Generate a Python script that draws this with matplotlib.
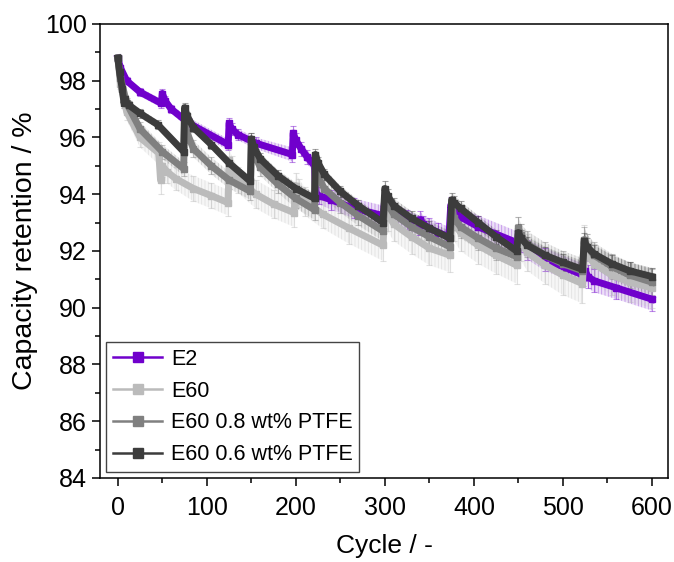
import matplotlib
matplotlib.use("Agg")
import matplotlib.pyplot as plt
from matplotlib.lines import Line2D
from matplotlib.colors import to_rgba
from matplotlib.ticker import MultipleLocator

plt.rcParams['font.family'] = ['Liberation Sans', 'DejaVu Sans']
plt.rcParams['hatch.linewidth'] = 0.6

# ---- data (cycle, retention %, std dev) ----
e2_cyc = [0, 3, 10, 25, 49, 50, 53, 60, 80, 124, 125, 128, 135, 155, 196,
          197, 200, 206, 213, 221, 222, 226, 240, 265, 298, 300, 303, 310, 325, 338,
          340, 343, 350, 360, 372, 374, 377, 385, 405, 448, 450, 453, 460, 480, 523,
          525, 528, 535, 560, 600]
e2_val = [98.8, 98.45, 98.0, 97.6, 97.2, 97.55, 97.3, 97.0, 96.5, 95.75,
          96.5, 96.3, 96.1, 95.8, 95.4, 96.15, 95.9, 95.6, 95.3, 95.0,
          94.05, 93.95, 93.8, 93.5, 93.25, 93.85, 93.6, 93.35, 93.1, 92.9,
          93.1, 92.95, 92.8, 92.65, 92.5, 93.6, 93.4, 93.2, 92.85, 92.3,
          92.5, 92.3, 92.05, 91.7, 91.15, 91.3, 91.1, 90.95, 90.7, 90.3]
e2_err = [0.05, 0.1, 0.12, 0.15, 0.15, 0.15, 0.15, 0.15, 0.2, 0.2,
          0.2, 0.2, 0.2, 0.2, 0.25, 0.25, 0.25, 0.25, 0.25, 0.25,
          0.3, 0.3, 0.35, 0.35, 0.35, 0.3, 0.3, 0.35, 0.35, 0.35,
          0.3, 0.3, 0.35, 0.35, 0.35, 0.3, 0.35, 0.35, 0.4, 0.4,
          0.3, 0.35, 0.35, 0.4, 0.4, 0.35, 0.4, 0.4, 0.4, 0.4]

e60_cyc = [0, 3, 10, 25, 46, 48, 50, 55, 65, 85, 105, 124,
           125, 128, 135, 155, 175, 198, 200, 203, 210, 230, 260, 298,
           300, 303, 310, 330, 350, 373, 375, 378, 385, 405, 425, 448,
           450, 453, 460, 480, 500, 522, 524, 527, 535, 555, 575, 600]
e60_val = [98.8, 97.9, 96.9, 96.0, 95.45, 94.5, 95.0, 94.8, 94.55, 94.2, 93.95, 93.7,
           95.2, 94.9, 94.5, 94.0, 93.65, 93.35, 94.3, 94.05, 93.75, 93.3, 92.8, 92.2,
           93.6, 93.3, 92.95, 92.5, 92.1, 91.85, 93.3, 93.0, 92.65, 92.2, 91.85, 91.5,
           92.6, 92.3, 91.95, 91.5, 91.15, 90.85, 92.2, 91.9, 91.55, 91.15, 90.9, 90.7]
e60_err = [0.05, 0.2, 0.3, 0.35, 0.4, 0.5, 0.4, 0.4, 0.4, 0.45, 0.45, 0.45,
           0.4, 0.45, 0.45, 0.5, 0.5, 0.5, 0.45, 0.5, 0.5, 0.5, 0.55, 0.55,
           0.55, 0.6, 0.6, 0.6, 0.6, 0.6, 0.6, 0.65, 0.65, 0.65, 0.65, 0.65,
           0.6, 0.65, 0.65, 0.65, 0.7, 0.7, 0.7, 0.7, 0.7, 0.7, 0.7, 0.7]

e60_08_cyc = [0, 3, 10, 25, 50, 74, 75, 78, 85, 105, 125, 149,
              150, 153, 160, 180, 200, 221, 222, 225, 232, 250, 270, 298,
              300, 303, 310, 330, 350, 373, 375, 378, 385, 405, 425, 448,
              450, 453, 460, 480, 500, 522, 524, 527, 535, 555, 575, 600]
e60_08_val = [98.8, 98.1, 97.2, 96.3, 95.5, 94.9, 96.6, 96.15, 95.6, 95.0, 94.5, 94.1,
              95.85, 95.45, 94.95, 94.35, 93.85, 93.45, 94.9, 94.6, 94.2, 93.7, 93.25, 92.7,
              93.9, 93.65, 93.3, 92.85, 92.5, 92.15, 93.4, 93.15, 92.85, 92.45, 92.1, 91.8,
              92.8, 92.55, 92.25, 91.85, 91.55, 91.3, 92.4, 92.15, 91.85, 91.45, 91.15, 90.9]
e60_08_err = [0.05, 0.15, 0.2, 0.25, 0.25, 0.25, 0.25, 0.25, 0.3, 0.3, 0.3, 0.3,
              0.3, 0.3, 0.3, 0.3, 0.35, 0.35, 0.3, 0.35, 0.35, 0.35, 0.35, 0.35,
              0.35, 0.35, 0.35, 0.4, 0.4, 0.4, 0.4, 0.4, 0.4, 0.4, 0.4, 0.4,
              0.4, 0.4, 0.45, 0.45, 0.45, 0.45, 0.45, 0.45, 0.45, 0.45, 0.45, 0.45]

e60_06_cyc = [0, 2, 5, 7, 8, 12, 25, 45, 74, 75, 78, 85, 105, 125, 149,
              150, 153, 160, 180, 200, 221, 222, 225, 232, 250, 270, 298,
              300, 303, 310, 330, 350, 373, 375, 378, 385, 405, 425, 448,
              450, 453, 460, 480, 500, 522, 524, 527, 535, 555, 575, 600]
e60_06_val = [98.8, 98.3, 97.7, 97.2, 97.35, 97.15, 96.85, 96.45, 95.5,
              97.05, 96.75, 96.35, 95.75, 95.1, 94.45, 95.95, 95.65, 95.25, 94.65, 94.2, 93.85,
              95.4, 95.1, 94.7, 94.1, 93.6, 93.0, 94.2, 93.95, 93.6, 93.15, 92.8, 92.45,
              93.8, 93.7, 93.5, 93.0, 92.5, 92.0, 92.65, 92.45, 92.2, 91.85, 91.6, 91.35,
              92.35, 92.15, 91.9, 91.55, 91.3, 91.1]
e60_06_err = [0.05, 0.1, 0.15, 0.15, 0.15, 0.15, 0.15, 0.15, 0.15,
              0.15, 0.15, 0.15, 0.15, 0.15, 0.15, 0.2, 0.2, 0.2, 0.2, 0.2, 0.2,
              0.2, 0.2, 0.2, 0.2, 0.2, 0.2, 0.25, 0.25, 0.25, 0.25, 0.25, 0.25,
              0.25, 0.25, 0.25, 0.25, 0.25, 0.25, 0.3, 0.3, 0.3, 0.3, 0.3, 0.3,
              0.3, 0.3, 0.3, 0.3, 0.3, 0.3]

labels = ['E2', 'E60', 'E60 0.8 wt% PTFE', 'E60 0.6 wt% PTFE']
colors = ['#7000CC', '#BBBBBB', '#808080', '#3C3C3C']
series = [(e2_cyc, e2_val, e2_err), (e60_cyc, e60_val, e60_err),
          (e60_08_cyc, e60_08_val, e60_08_err), (e60_06_cyc, e60_06_val, e60_06_err)]

fig = plt.figure(figsize=(6.74, 5.62), dpi=100)
ax = fig.add_axes([0.1484, 0.1495, 0.8426, 0.8078])

for (cyc, val, err), col in zip(series, colors):
    lo = [v - e for v, e in zip(val, err)]
    hi = [v + e for v, e in zip(val, err)]
    # dense error bars look like a hatched band in the original
    ax.fill_between(cyc, lo, hi, facecolor=to_rgba(col, 0.12),
                    edgecolor=to_rgba(col, 0.35), hatch='|||||', lw=0)
    ax.errorbar(cyc, val, yerr=err, fmt='-s', color=col, lw=5, ms=5,
                ecolor=to_rgba(col, 0.45), elinewidth=0.8, capsize=2.5, capthick=0.8)

ax.set_xlim(-20, 618)
ax.set_ylim(84, 100)
ax.xaxis.set_major_locator(MultipleLocator(100))
ax.xaxis.set_minor_locator(MultipleLocator(50))
ax.yaxis.set_major_locator(MultipleLocator(2))
ax.yaxis.set_minor_locator(MultipleLocator(1))
ax.tick_params(which='both', direction='out', top=False, right=False, width=1.1, labelsize=18)
ax.tick_params(which='major', length=6)
ax.tick_params(which='minor', length=3.5)
ax.tick_params(axis='x', pad=7)
for sp in ax.spines.values():
    sp.set_linewidth(1.1)

ax.set_xlabel('Cycle / -', fontsize=19, labelpad=10)
ax.set_ylabel('Capacity retention / %', fontsize=20.5, labelpad=5)

handles = [Line2D([], [], color=c, marker='s', ms=7.5, lw=1.8) for c in colors]
leg = ax.legend(handles, labels, loc='lower left', bbox_to_anchor=(0.0, 0.0),
                fontsize=15.5, frameon=True, fancybox=False, framealpha=1,
                edgecolor='#444444', handlelength=2.3, handletextpad=0.4,
                labelspacing=0.5, borderpad=0.3, borderaxespad=0.3, numpoints=1)
leg.get_frame().set_linewidth(1.0)

fig.savefig('out.png', dpi=100)
